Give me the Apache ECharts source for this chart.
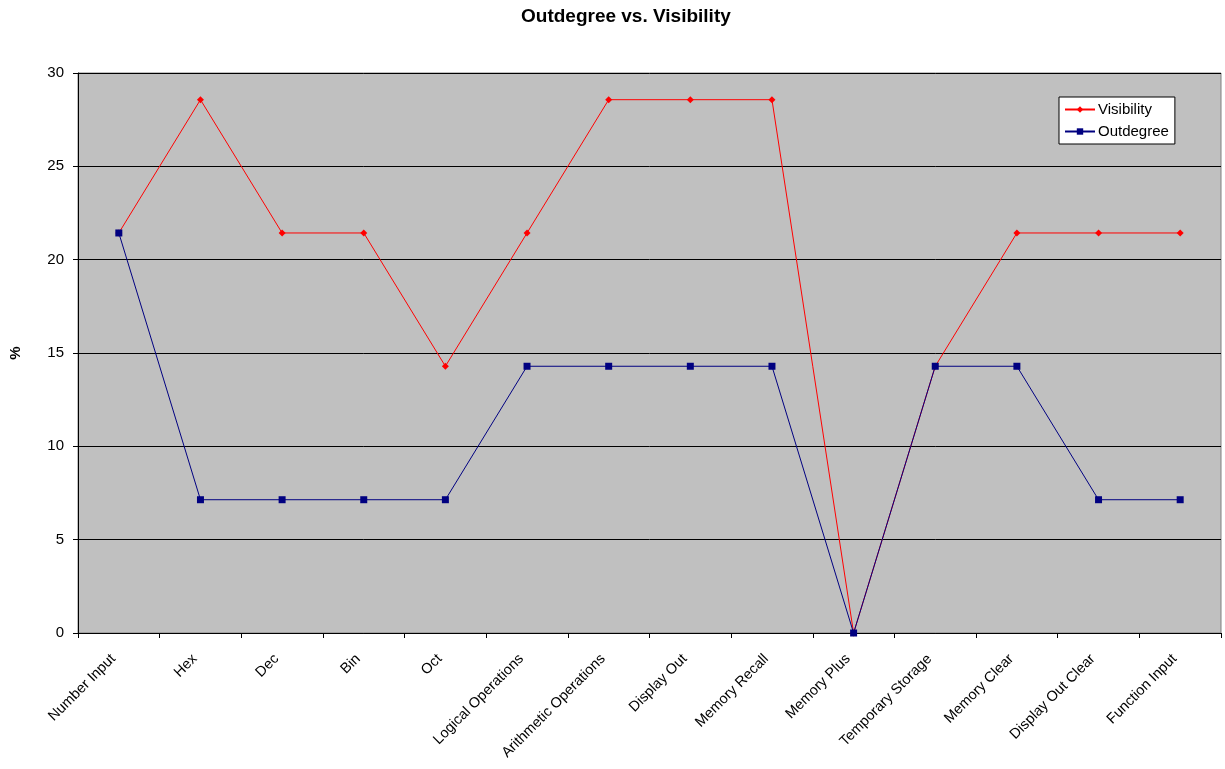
<!DOCTYPE html>
<html>
<head>
<meta charset="utf-8">
<script src="https://cdn.jsdelivr.net/npm/echarts@6/dist/echarts.min.js"></script>
<style>
  html, body { margin: 0; padding: 0; background: #fff; }
  #chart { width: 1225px; height: 769px; }
</style>
</head>
<body>
<div id="chart"></div>
<script>
const categories = ['Number Input', 'Hex', 'Dec', 'Bin', 'Oct', 'Logical Operations',
  'Arithmetic Operations', 'Display Out', 'Memory Recall', 'Memory Plus',
  'Temporary Storage', 'Memory Clear', 'Display Out Clear', 'Function Input'];
const visibility = [21.43, 28.57, 21.43, 21.43, 14.29, 21.43, 28.57, 28.57, 28.57, 0, 14.29, 21.43, 21.43, 21.43];
const outdegree = [21.43, 7.14, 7.14, 7.14, 7.14, 14.29, 14.29, 14.29, 14.29, 0, 14.29, 14.29, 7.14, 7.14];
const yTicks = [0, 5, 10, 15, 20, 25, 30];

const chart = echarts.init(document.getElementById('chart'));
const font = 'Liberation Sans, Arial, sans-serif';

chart.setOption({
  animation: false,
  backgroundColor: '#ffffff',
  textStyle: { fontFamily: font },
  title: {
    text: 'Outdegree vs. Visibility',
    left: 521,
    top: 7,
    padding: 0,
    textStyle: { fontSize: 19, fontWeight: 'bold', color: '#000', fontFamily: font }
  },
  grid: {
    left: 77, right: 4, top: 73, bottom: 136,
    show: true, backgroundColor: '#c0c0c0', borderColor: '#808080', borderWidth: 1
  },
  legend: {
    left: 1059, top: 97,
    orient: 'vertical',
    backgroundColor: '#ffffff',
    borderColor: '#000',
    borderWidth: 1,
    borderRadius: 0,
    padding: [5, 6, 5, 5],
    itemGap: 7,
    itemWidth: 30,
    itemHeight: 8,
    textStyle: { fontSize: 15, color: '#000', fontFamily: font, padding: [0, 0, 0, -2] },
    data: ['Visibility', 'Outdegree']
  },
  xAxis: {
    type: 'category',
    data: categories,
    boundaryGap: true,
    axisLine: { lineStyle: { color: '#000', width: 1 } },
    axisTick: { show: true, length: 5, lineStyle: { color: '#000' } },
    axisLabel: {
      rotate: 45, interval: 0, color: '#000', fontSize: 14.5, margin: 18,
      padding: [0, 8, 0, 0], fontFamily: font
    }
  },
  yAxis: {
    type: 'value',
    min: yTicks[0],
    max: yTicks[yTicks.length - 1],
    interval: 5,
    name: '%',
    nameLocation: 'middle',
    nameGap: 55,
    nameRotate: 90,
    nameTextStyle: { fontSize: 15, fontWeight: 'bold', color: '#000', fontFamily: font },
    axisLine: { show: true, lineStyle: { color: '#000', width: 1 } },
    axisTick: { show: true, length: 5, lineStyle: { color: '#000' } },
    axisLabel: { color: '#000', fontSize: 15, margin: 14, fontFamily: font },
    splitLine: { show: true, lineStyle: { color: '#000', width: 1 } }
  },
  series: [
    {
      name: 'Visibility',
      type: 'line',
      data: visibility,
      symbol: 'diamond',
      symbolSize: 7,
      color: '#ff0000',
      lineStyle: { color: '#ff0000', width: 1 },
      itemStyle: { color: '#ff0000' },
      z: 2
    },
    {
      name: 'Outdegree',
      type: 'line',
      data: outdegree,
      symbol: 'rect',
      symbolSize: 7,
      color: '#000080',
      lineStyle: { color: '#000080', width: 1 },
      itemStyle: { color: '#000080' },
      z: 3
    }
  ]
});
</script>
</body>
</html>
